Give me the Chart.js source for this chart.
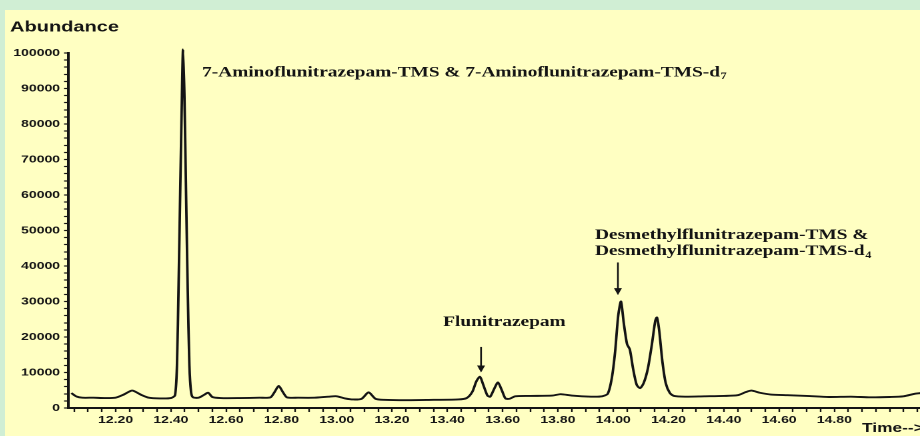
<!DOCTYPE html>
<html>
<head>
<meta charset="utf-8">
<script src="https://cdn.jsdelivr.net/npm/chart.js@4.4.0/dist/chart.umd.min.js"></script>
<style>
  html, body { margin: 0; padding: 0; }
  body { width: 920px; height: 436px; background: #d0eed4; overflow: hidden; position: relative; }
  #panel { position: absolute; left: 5px; top: 10px; width: 915px; height: 426px; background: #ffffc2; overflow: hidden; }
  /* the original plot is stretched sideways, so draw narrow and widen it */
  #stretch { width: 686px; height: 426px; transform: scaleX(1.3338); transform-origin: 0 0; }
</style>
</head>
<body>
<div id="panel"><div id="stretch"><canvas id="chrom" width="686" height="426"></canvas></div></div>
<script>
// retention time (min) and abundance
var times = [
  12.04, 12.06, 12.08, 12.12, 12.16, 12.20, 12.23, 12.26, 12.29, 12.32, 12.36, 12.40,
  12.415, 12.422, 12.428, 12.434, 12.440, 12.444, 12.449, 12.455, 12.461, 12.467, 12.473, 12.48,
  12.50, 12.52, 12.535, 12.55, 12.58, 12.65, 12.72, 12.76, 12.775, 12.79, 12.805, 12.82,
  12.86, 12.92, 12.97, 13.00, 13.03, 13.06, 13.09, 13.115, 13.14, 13.17, 13.25, 13.35,
  13.44, 13.47, 13.49, 13.505, 13.518, 13.53, 13.545, 13.555, 13.57, 13.583, 13.597, 13.61,
  13.625, 13.645, 13.70, 13.78, 13.81, 13.85, 13.92, 13.96, 13.98, 13.995, 14.007, 14.018,
  14.028, 14.038, 14.05, 14.06, 14.072, 14.085, 14.097, 14.11, 14.125, 14.14, 14.152, 14.158,
  14.166, 14.178, 14.19, 14.205, 14.22, 14.26, 14.33, 14.40, 14.45, 14.48, 14.50, 14.53,
  14.57, 14.63, 14.70, 14.78, 14.86, 14.93, 15.00, 15.05, 15.09, 15.11
];
var abundance = [
  4200, 3200, 2900, 2900, 2800, 2900, 3800, 4900, 3800, 2900, 2700, 2800,
  3600, 12000, 35000, 62000, 88000, 101000, 88000, 60000, 33000, 12000, 4500, 3000,
  2900, 3700, 4300, 3100, 2800, 2800, 2900, 3000, 4500, 6200, 4500, 3000,
  2900, 2900, 3200, 3300, 2700, 2400, 2600, 4400, 2600, 2300, 2200, 2300,
  2400, 2800, 4500, 7500, 8800, 6500, 3500, 3200, 5500, 7200, 5000, 2700,
  2600, 3300, 3400, 3500, 3900, 3500, 3200, 3300, 4000, 8500, 16000, 26000,
  30000, 24000, 18000, 16500, 11000, 6500, 5600, 7000, 11000, 18000, 24500, 25500,
  22000, 13000, 7000, 4200, 3400, 3200, 3300, 3400, 3600, 4500, 4900, 4300,
  3800, 3600, 3400, 3100, 3200, 3000, 3100, 3300, 4000, 4200
];
var labelledTimes = [12.20, 12.40, 12.60, 12.80, 13.00, 13.20, 13.40, 13.60, 13.80, 14.00, 14.20, 14.40, 14.60, 14.80];
var timeStep = 0.05;
var abundanceMax = 100000;
var abundanceStep = 2000;
var abundanceLabelEvery = 10000;

var points = times.map(function(t, i) { return { x: t, y: abundance[i] }; });

var sansFont = '"Liberation Sans", Arial, sans-serif';
var serifFont = '"Liberation Serif", "Times New Roman", serif';
var ink = '#141414';

// peak labels, anchored in data units
var notes = [
  { lines: [['7-Aminoflunitrazepam-TMS & 7-Aminoflunitrazepam-TMS-d', '7']], t: 12.513, v: 94400 },
  { lines: [['Flunitrazepam', '']], t: 13.385, v: 24200 },
  { lines: [['Desmethylflunitrazepam-TMS &', ''], ['Desmethylflunitrazepam-TMS-d', '4']], t: 13.934, v: 48600, lineGap: 16 }
];
var arrows = [
  { t: 13.522, from: 17200, to: 10000 },
  { t: 14.017, from: 41000, to: 31800 }
];

var annotate = {
  id: 'annotate',
  afterDatasetsDraw: function(chart) {
    var ctx = chart.ctx, xs = chart.scales.x, ys = chart.scales.y;
    ctx.save();
    ctx.fillStyle = ink;
    ctx.strokeStyle = ink;
    ctx.textBaseline = 'middle';
    notes.forEach(function(n) {
      var x = xs.getPixelForValue(n.t);
      var y = ys.getPixelForValue(n.v);
      n.lines.forEach(function(l, i) {
        var yy = y + i * (n.lineGap || 0);
        ctx.font = 'bold 14.5px ' + serifFont;
        ctx.fillText(l[0], x, yy);
        if (l[1]) {
          var w = ctx.measureText(l[0]).width;
          ctx.font = 'bold 9px ' + serifFont;
          ctx.fillText(l[1], x + w + 0.5, yy + 4);
        }
      });
    });
    arrows.forEach(function(a) {
      var x = xs.getPixelForValue(a.t);
      var y1 = ys.getPixelForValue(a.from), y2 = ys.getPixelForValue(a.to);
      ctx.lineWidth = 1.3;
      ctx.beginPath();
      ctx.moveTo(x, y1);
      ctx.lineTo(x, y2 - 5);
      ctx.stroke();
      ctx.beginPath();
      ctx.moveTo(x - 3, y2 - 7);
      ctx.lineTo(x + 3, y2 - 7);
      ctx.lineTo(x, y2);
      ctx.closePath();
      ctx.fill();
    });
    // axis captions
    ctx.textBaseline = 'alphabetic';
    ctx.font = 'bold 15px ' + sansFont;
    ctx.fillText('Abundance', 3.8, 21.5);
    ctx.font = 'bold 13px ' + sansFont;
    ctx.fillText('Time-->', 642.5, 422);
    ctx.restore();
  }
};

new Chart(document.getElementById('chrom'), {
  type: 'line',
  data: {
    datasets: [{
      data: points,
      borderColor: ink,
      borderWidth: 1.9,
      pointRadius: 0,
      tension: 0.25,
      fill: false,
      clip: false
    }]
  },
  plugins: [annotate],
  options: {
    responsive: false,
    animation: false,
    devicePixelRatio: 2,
    layout: { padding: { top: 43, right: 0, left: 0, bottom: 0 } },
    plugins: { legend: { display: false }, tooltip: { enabled: false } },
    scales: {
      x: {
        type: 'linear',
        min: 12.028,
        max: 15.109,
        afterBuildTicks: function(scale) {
          var ticks = [];
          for (var k = Math.ceil(scale.min / timeStep); k * timeStep <= scale.max + 1e-9; k++) {
            ticks.push({ value: +(k * timeStep).toFixed(2) });
          }
          scale.ticks = ticks;
        },
        afterFit: function(scale) { scale.height = 28; },
        border: { display: true, color: ink, width: 2 },
        grid: { drawOnChartArea: false, drawTicks: true, tickLength: 4, tickColor: ink, tickWidth: 1.2 },
        ticks: {
          autoSkip: false,
          maxRotation: 0,
          padding: 2,
          color: ink,
          font: { family: sansFont, size: 10.5, weight: 'bold' },
          callback: function(value) {
            var hit = labelledTimes.some(function(t) { return Math.abs(t - value) < 1e-6; });
            return hit ? value.toFixed(2) : '';
          }
        }
      },
      y: {
        min: 0,
        max: abundanceMax,
        afterFit: function(scale) { scale.width = 47.25; },
        border: { display: true, color: ink, width: 2 },
        grid: { drawOnChartArea: false, drawTicks: true, tickLength: 3, tickColor: ink, tickWidth: 1.2 },
        ticks: {
          stepSize: abundanceStep,
          autoSkip: false,
          padding: 3,
          color: ink,
          font: { family: sansFont, size: 10.5, weight: 'bold' },
          callback: function(value) { return value % abundanceLabelEvery === 0 ? String(value) : ''; }
        }
      }
    }
  }
});
</script>
</body>
</html>
